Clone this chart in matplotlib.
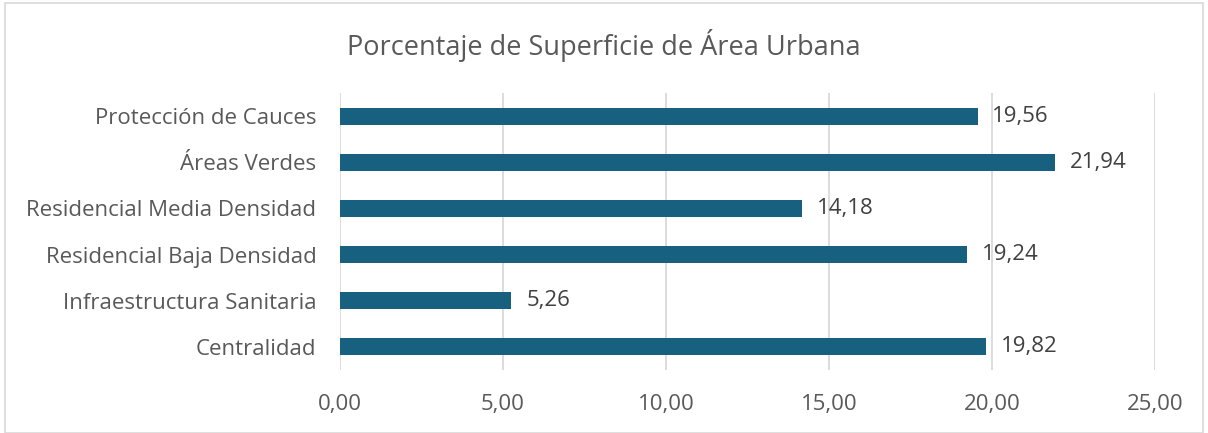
import matplotlib.pyplot as plt
from matplotlib.patches import Rectangle
from matplotlib.ticker import FuncFormatter

# --- Data ---
categories = [
    "Centralidad",
    "Infraestructura Sanitaria",
    "Residencial Baja Densidad",
    "Residencial Media Densidad",
    "Áreas Verdes",
    "Protección de Cauces",
]
values = [19.82, 5.26, 19.24, 14.18, 21.94, 19.56]
xticks = [0, 5, 10, 15, 20, 25]

BAR_COLOR = "#17607f"
TEXT_COLOR = "#595959"
LABEL_COLOR = "#404040"
GRID_COLOR = "#d9d9d9"

plt.rcParams['font.family'] = ['Open Sans', 'DejaVu Sans']

fig = plt.figure(figsize=(12.08, 4.33), dpi=100)
ax = fig.add_axes([0.2815, 0.1455, 0.6745, 0.6395])

y = range(len(categories))
ax.barh(y, values, height=0.37, color=BAR_COLOR, zorder=3)

def comma(v, _=None):
    return f"{v:.2f}".replace(".", ",")

for i, v in zip(y, values):
    ax.text(v + 0.45, i, comma(v), va="center", ha="left",
            fontsize=16, color=LABEL_COLOR)

ax.set_xlim(0, 25)
ax.set_ylim(-0.5, len(categories) - 0.5)
ax.set_xticks(xticks)
ax.xaxis.set_major_formatter(FuncFormatter(comma))
ax.set_yticks(list(y))
ax.set_yticklabels(categories)
ax.tick_params(axis="both", length=0, labelsize=16, colors=TEXT_COLOR)
ax.tick_params(axis="x", pad=17)
ax.tick_params(axis="y", pad=17)
ax.grid(axis="x", color=GRID_COLOR, linewidth=1.3, zorder=0)
for s in ax.spines.values():
    s.set_visible(False)

fig.text(0.5, 0.896, "Porcentaje de Superficie de Área Urbana",
         ha="center", va="center", fontsize=19.5, color=TEXT_COLOR)

fig.patches.append(Rectangle((0.004, 0.0), 0.992, 0.993, transform=fig.transFigure,
                             fill=False, edgecolor="#d9d9d9", linewidth=1.2))

fig.savefig("out.png", dpi=100)
